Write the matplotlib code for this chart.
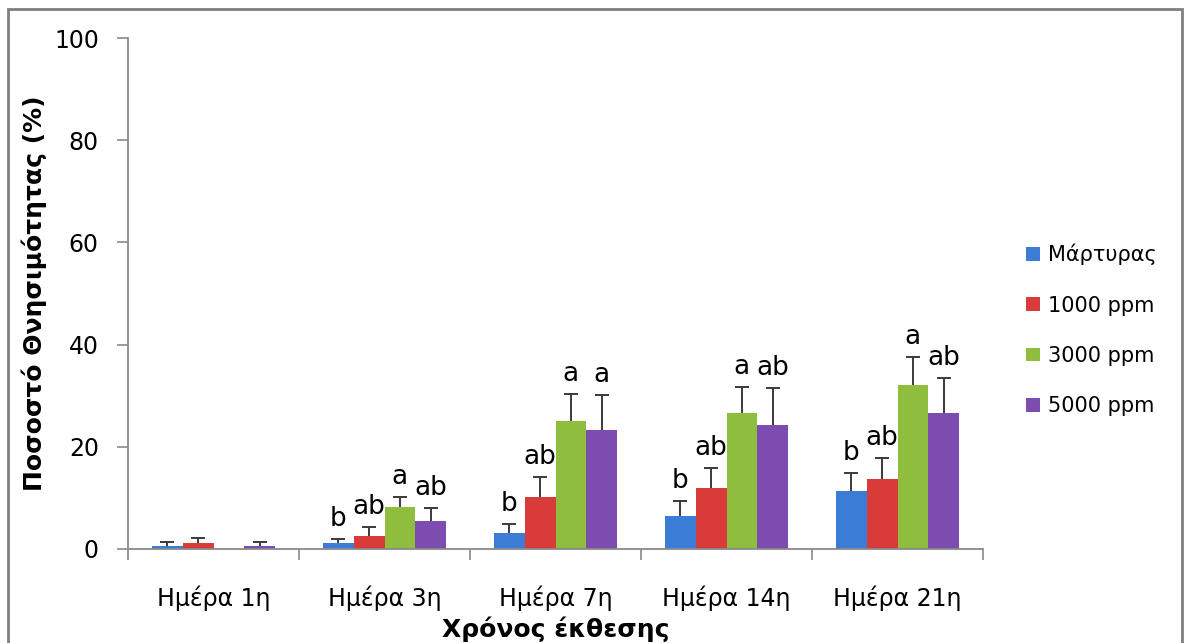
import matplotlib
matplotlib.use("Agg")
import matplotlib.pyplot as plt
from matplotlib.patches import Rectangle
import numpy as np

plt.rcParams['font.family'] = ['DejaVu Sans']

categories = ["Ημέρα 1η", "Ημέρα 3η", "Ημέρα 7η", "Ημέρα 14η", "Ημέρα 21η"]
series_names = ["Μάρτυρας", "1000 ppm", "3000 ppm", "5000 ppm"]
control = [0.6, 1.1, 3.1, 6.5, 11.4]
ppm1000 = [1.2, 2.5, 10.2, 11.9, 13.7]
ppm3000 = [0.0, 8.3, 25.0, 26.6, 32.1]
ppm5000 = [0.6, 5.4, 23.3, 24.3, 26.6]
err_control = [0.8, 0.9, 1.8, 2.9, 3.5]
err_1000 = [0.9, 1.8, 3.9, 3.9, 4.1]
err_3000 = [0.0, 1.8, 5.3, 5.1, 5.4]
err_5000 = [0.8, 2.6, 6.8, 7.2, 6.8]
letters_control = ["", "b", "b", "b", "b"]
letters_1000 = ["", "ab", "ab", "ab", "ab"]
letters_3000 = ["", "a", "a", "a", "a"]
letters_5000 = ["", "ab", "a", "ab", "ab"]
yticks = [0, 20, 40, 60, 80, 100]

values = [control, ppm1000, ppm3000, ppm5000]
errors = [err_control, err_1000, err_3000, err_5000]
letters = [letters_control, letters_1000, letters_3000, letters_5000]
colors = ['#3b7dd6', '#d93a3a', '#8fbd3e', '#7d4cb1']

W, H = 1189, 643
fig = plt.figure(figsize=(W / 100, H / 100), dpi=100)
ax = fig.add_axes([128 / W, 1 - 549 / H, (983 - 128) / W, (549 - 38) / H])

x = np.arange(len(categories))
bw = 0.18
offsets = [-0.27, -0.09, 0.09, 0.27]
handles = []
for k in range(4):
    xs = x + offsets[k]
    vals = np.array(values[k])
    errs = np.array(errors[k])
    b = ax.bar(xs, vals, width=bw, color=colors[k], edgecolor='none', label=series_names[k], zorder=2)
    handles.append(b)
    mask = errs > 0
    eb = ax.errorbar(xs[mask], vals[mask], yerr=[np.zeros(mask.sum()), errs[mask]], fmt='none',
                     ecolor='#3a3a3a', elinewidth=1.4, capsize=5, capthick=1.4, zorder=3)
    caps = eb[1]
    if len(caps) == 2:
        caps[0].set_visible(False)
    for i in range(len(categories)):
        if letters[k][i]:
            ax.text(xs[i], vals[i] + errs[i] + 1.4, letters[k][i], ha='center', va='bottom',
                    fontsize=19, color='black')

ax.set_xlim(-0.5, len(categories) - 0.5)
ax.set_ylim(0, 100)
ax.set_yticks(yticks)
ax.set_xticks(x)
ax.set_xticklabels(categories, fontsize=17)
ax.set_xticks(np.arange(len(categories) + 1) - 0.5, minor=True)
ax.tick_params(axis='x', which='major', length=0, pad=26)
ax.tick_params(axis='x', which='minor', length=8, width=1.2, color='#8a8a8a', direction='out')
ax.tick_params(axis='y', length=8, width=1.2, color='#8a8a8a', pad=13, labelsize=17)
for s in ['top', 'right']:
    ax.spines[s].set_visible(False)
for s in ['left', 'bottom']:
    ax.spines[s].set_color('#8a8a8a')
    ax.spines[s].set_linewidth(1.3)

ax.set_xlabel("Χρόνος έκθεσης", fontsize=18, fontweight='bold')
ax.xaxis.set_label_coords(0.5, -0.157)
ax.xaxis.label.set_va('center')
ax.set_ylabel("Ποσοστό Θνησιμότητας (%)", fontsize=18, fontweight='bold')
ax.yaxis.set_label_coords(-0.110, 0.5)
ax.yaxis.label.set_va('center')

leg = fig.legend(handles=handles, labels=series_names, loc='center left',
                 bbox_to_anchor=(1026 / W, 1 - 330 / H), frameon=False, fontsize=15,
                 handlelength=0.65, handleheight=0.65, handletextpad=0.4, labelspacing=1.45,
                 borderpad=0, borderaxespad=0)

fig.patches.append(Rectangle((8 / W, -0.01), (1182 - 8) / W, (643 - 9) / H + 0.01,
                             transform=fig.transFigure, fill=False, edgecolor='#808080', linewidth=2))

fig.savefig("out.png", dpi=100)
